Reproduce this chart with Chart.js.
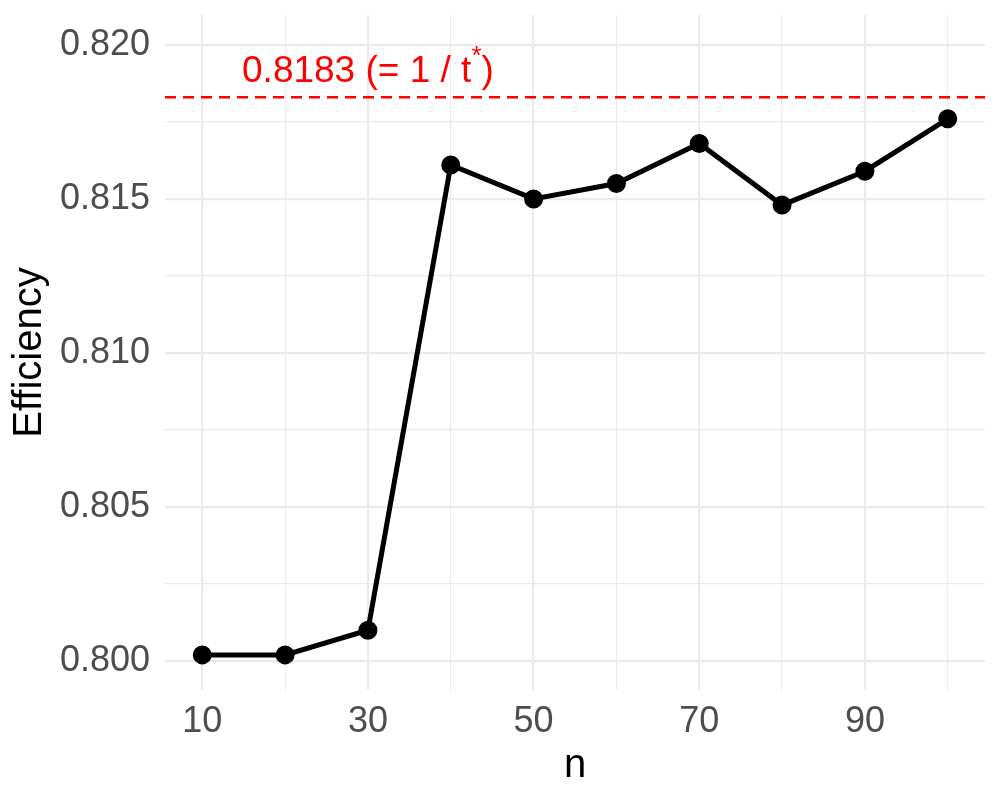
<!DOCTYPE html>
<html>
<head>
<meta charset="utf-8">
<script src="https://cdn.jsdelivr.net/npm/chart.js@4"></script>
<style>
  html, body { margin: 0; padding: 0; background: #ffffff; }
  #wrap { width: 1000px; height: 800px; }
</style>
</head>
<body>
<div id="wrap"><canvas id="effChart" width="1000" height="800"></canvas></div>
<script>
// data
const nValues = [10, 20, 30, 40, 50, 60, 70, 80, 90, 100];
const efficiency = [0.8002, 0.8002, 0.8010, 0.8161, 0.8150, 0.8155, 0.8168, 0.8148, 0.8159, 0.8176];

// reference line (1 / t*) and its label
const refValue = 0.8183;
const refLabelAt = [30, 0.8188];

// axis ticks (every other one is a minor gridline)
const xTicks = [10, 20, 30, 40, 50, 60, 70, 80, 90, 100];
const xMajor = [10, 30, 50, 70, 90];
const yTicks = [0.8, 0.8025, 0.805, 0.8075, 0.81, 0.8125, 0.815, 0.8175, 0.82];
const yMajor = [0.8, 0.805, 0.81, 0.815, 0.82];

const FONT = "'Liberation Sans', Arial, Helvetica, sans-serif";
const GRID = '#ebebeb';

const isMajor = (list, v) => list.some(m => Math.abs(m - v) < 1e-9);

// dashed reference line + red label
const refLinePlugin = {
    id: 'refLine',
    beforeDatasetsDraw(chart) {
        const { ctx, chartArea, scales } = chart;
        const y = scales.y.getPixelForValue(refValue);
        ctx.save();
        ctx.strokeStyle = '#ff0000';
        ctx.lineWidth = 2.5;
        ctx.setLineDash([11, 7]);
        ctx.beginPath();
        ctx.moveTo(chartArea.left, y);
        ctx.lineTo(chartArea.right, y);
        ctx.stroke();
        ctx.restore();
    },
    afterDatasetsDraw(chart) {
        const { ctx, scales } = chart;
        const cx = scales.x.getPixelForValue(refLabelAt[0]);
        const by = scales.y.getPixelForValue(refLabelAt[1]);
        const main = '0.8183 (= 1 / t';
        const sup = '*';
        const tail = ')';
        ctx.save();
        ctx.fillStyle = '#ff0000';
        ctx.textBaseline = 'alphabetic';
        ctx.textAlign = 'left';
        ctx.font = '37px ' + FONT;
        const w1 = ctx.measureText(main).width;
        const w3 = ctx.measureText(tail).width;
        ctx.font = '26px ' + FONT;
        const w2 = ctx.measureText(sup).width;
        let x = cx - (w1 + w2 + w3) / 2;
        ctx.font = '37px ' + FONT;
        ctx.fillText(main, x, by);
        x += w1;
        ctx.font = '26px ' + FONT;
        ctx.fillText(sup, x, by - 18);
        x += w2;
        ctx.font = '37px ' + FONT;
        ctx.fillText(tail, x, by);
        ctx.restore();
    }
};

const ctx = document.getElementById('effChart').getContext('2d');
new Chart(ctx, {
    type: 'line',
    data: {
        labels: nValues,
        datasets: [{
            label: 'Efficiency',
            data: nValues.map((n, i) => ({ x: n, y: efficiency[i] })),
            borderColor: '#000000',
            backgroundColor: '#000000',
            borderWidth: 5,
            pointRadius: 7,
            pointHoverRadius: 7,
            tension: 0
        }]
    },
    options: {
        responsive: false,
        animation: false,
        layout: { padding: { top: 15, right: 15, bottom: 0, left: 0 } },
        plugins: {
            legend: { display: false },
            tooltip: { enabled: false }
        },
        scales: {
            x: {
                type: 'linear',
                min: 5.5,
                max: 104.5,
                afterBuildTicks: s => { s.ticks = xTicks.map(v => ({ value: v })); },
                afterFit: s => {
                    s.height = 110;
                    s.paddingLeft = 0;
                    s.paddingRight = 0;
                },
                border: { display: false },
                grid: {
                    color: GRID,
                    drawTicks: false,
                    lineWidth: c => isMajor(xMajor, c.tick.value) ? 2.2 : 1.2
                },
                ticks: {
                    padding: 10,
                    color: '#4d4d4d',
                    font: { family: FONT, size: 36 },
                    autoSkip: false,
                    maxRotation: 0,
                    callback: v => isMajor(xMajor, v) ? String(v) : ''
                },
                title: {
                    display: true,
                    text: 'n',
                    color: '#000000',
                    font: { family: FONT, size: 40 },
                    padding: { top: 0, bottom: 10 }
                }
            },
            y: {
                min: 0.79906,
                max: 0.82097,
                afterBuildTicks: s => { s.ticks = yTicks.map(v => ({ value: v })); },
                afterFit: s => {
                    s.width = 165;
                    s.paddingTop = 0;
                    s.paddingBottom = 0;
                },
                border: { display: false },
                grid: {
                    color: GRID,
                    drawTicks: false,
                    lineWidth: c => isMajor(yMajor, c.tick.value) ? 2.2 : 1.2
                },
                ticks: {
                    padding: 15,
                    color: '#4d4d4d',
                    font: { family: FONT, size: 36 },
                    autoSkip: false,
                    callback: v => isMajor(yMajor, v) ? v.toFixed(3) : ''
                },
                title: {
                    display: true,
                    text: 'Efficiency',
                    color: '#000000',
                    font: { family: FONT, size: 40 },
                    padding: { top: 6, bottom: 0 }
                }
            }
        }
    },
    plugins: [refLinePlugin]
});
</script>
</body>
</html>
